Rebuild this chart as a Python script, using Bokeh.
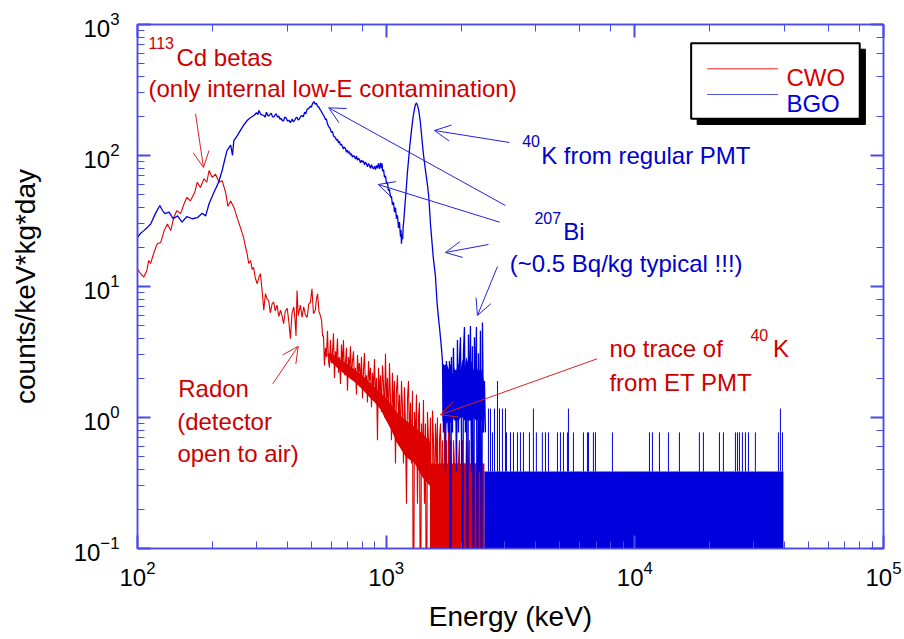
from bokeh.plotting import figure
from bokeh.models import LogAxis, Label, Arrow, OpenHead, BoxAnnotation, Range1d
from bokeh.embed import file_html
from bokeh.resources import INLINE

# ---------------- data ----------------
# CWO (red) spectrum: energy (keV), counts/keV*kg*day
cwo_points = [
    (100, 13.6), (103, 12.5), (106, 11.8), (109, 13.2), (111, 15.8), (113, 15), (116, 17.8),
    (120, 21.2), (124, 21.7), (128, 26.7), (132, 30), (136, 26.7), (140, 33.8), (144, 38),
    (149, 36), (154, 42.8), (158, 48), (163, 45), (170, 52.5), (174, 62.5), (179, 57),
    (185, 66.4), (190, 62.5), (194, 76.8), (200, 68), (206, 72), (213, 62.5), (219, 64.3),
    (226, 52.5), (231, 41), (237, 45), (244, 40.3), (251, 34), (259, 28.4), (267, 23.7),
    (272, 20), (276, 17.8), (280, 15), (285, 15.8), (289, 13.5), (293, 14), (298, 11.5),
    (303, 10.5), (308, 11.8), (312, 12.5), (317, 9.3), (322, 6.6), (327, 8.8), (332, 8.0),
    (337, 7.8), (342, 6.3), (348, 7.4), (353, 7.6), (358, 6.5), (364, 7.2), (370, 5.9),
    (376, 6.6), (381, 6.0), (387, 5.2), (393, 6.5), (400, 6.8), (406, 5.4), (412, 4.0),
    (418, 6.2), (425, 7.0), (430, 5.6), (434, 4.2), (438, 9.3), (443, 6.0), (452, 7.2),
    (459, 5.8), (466, 7.0), (473, 6.1), (481, 5.8), (488, 7.3), (496, 7.6), (503, 9.6),
    (510, 6.2), (519, 6.6), (524, 8.0), (530, 8.8), (537, 6.4), (544, 6.0), (550, 5.5),
    (555, 4.2),
    (559.6, 4.2), (564.8, 2.5), (570.0, 3.4), (575.3, 2.9), (580.7, 4.6), (586.1, 2.7),
    (591.5, 2.4), (597.0, 3.9), (602.6, 2.6), (608.2, 3.1), (613.9, 4.4), (619.6, 2.0),
    (625.3, 3.2), (631.2, 2.8), (637.0, 4.0), (643.0, 2.2), (648.9, 2.9), (655.0, 1.8),
    (661.1, 3.6), (667.2, 2.5), (673.4, 3.9), (679.7, 2.1), (686.0, 2.6), (692.4, 3.4),
    (698.9, 1.6), (705.4, 2.9), (711.9, 2.3), (718.6, 3.5), (725.2, 2.0), (732.0, 2.7),
    (738.8, 3.2), (745.7, 1.9), (752.6, 2.4), (759.6, 1.5), (766.7, 3.0), (773.8, 2.2),
    (781.0, 2.6), (788.3, 1.8), (795.6, 2.9), (803.0, 1.4), (810.5, 2.3), (818.0, 3.1),
    (825.6, 1.7), (833.3, 2.1), (841.1, 1.3), (848.9, 2.7), (856.8, 1.9), (864.8, 2.4),
    (872.8, 1.2), (880.9, 2.2), (889.1, 1.6), (897.4, 2.8), (905.7, 1.4), (914.2, 2.0),
    (922.7, 0.67), (931.2, 2.4), (939.9, 1.5), (948.6, 2.1), (957.5, 1.1), (966.4, 2.5),
    (975.4, 1.8), (984.4, 1.0), (993.6, 3.06), (1002.8, 1.3), (1012.2, 2.0), (1021.6, 0.9),
    (1031.1, 2.6), (1040.7, 1.4), (1050.4, 0.67), (1060.1, 2.2), (1070.0, 1.1), (1080.0, 1.9),
    (1090.0, 0.446), (1100.1, 1.6), (1110.4, 2.1), (1120.7, 0.9), (1131.1, 1.5), (1141.6, 0.67),
    (1152.3, 1.9), (1163.0, 1.2), (1173.8, 0.446), (1184.7, 1.7), (1195.7, 0.9), (1206.8, 0.22),
    (1218.1, 1.4), (1229.4, 1.9), (1240.8, 0.67), (1252.4, 1.3), (1264.0, 0.446), (1275.8, 1.6),
    (1287.6, 0.01), (1299.6, 1.1), (1311.7, 0.67), (1323.9, 1.5), (1336.2, 0.22), (1348.6, 1.0),
    (1361.2, 1.3), (1373.8, 0.01), (1386.6, 0.9), (1399.5, 0.446), (1412.5, 1.36), (1425.6, 0.22),
    (1438.9, 0.9), (1452.3, 0.01), (1465.8, 1.1), (1479.4, 0.67), (1493.2, 0.446), (1507.1, 1.0),
    (1521.1, 0.01), (1535.2, 1.13), (1549.5, 0.67), (1563.9, 0.22), (1578.4, 0.9), (1593.1, 0.446),
    (1607.9, 1.0), (1622.9, 0.01), (1638.0, 0.67), (1653.2, 0.9), (1668.6, 0.22), (1684.1, 0.67),
    (1699.7, 0.01), (1715.5, 0.9), (1731.5, 0.446), (1747.6, 0.67), (1763.8, 0.01), (1780.2, 0.9),
    (1796.8, 0.22), (1813.5, 0.67), (1830.4, 0.446), (1847.4, 0.01), (1864.6, 0.67), (1881.9, 0.446),
    (1899.4, 0.01), (1917.1, 0.67), (1934.9, 0.22), (1952.9, 0.446), (1971.0, 0.67), (1989.4, 0.01),
    (2007.9, 0.446), (2026.5, 0.67), (2045.4, 0.01), (2064.4, 0.446), (2083.6, 0.22), (2103.0, 0.67),
    (2122.5, 0.01), (2142.3, 0.446), (2162.2, 0.67), (2182.3, 0.01), (2202.6, 0.446), (2223.1, 0.22),
    (2243.7, 0.446), (2264.6, 0.01), (2285.7, 0.446), (2306.9, 0.22), (2328.4, 0.446), (2350.0, 0.01),
    (2371.9, 0.446), (2393.9, 0.446), (2416.2, 0.01), (2438.7, 0.446), (2461.4, 0.22), (2484.3, 0.01),
]
# CWO: dense core of the noisy part (lower / upper edge of the filled band)
cwo_core_e = [580, 600, 650, 700, 750, 800, 850, 900, 950, 1000, 1050, 1100, 1200, 1300, 1400, 1500]
cwo_core_lo = [3.0, 2.65, 2.3, 2.05, 1.85, 1.65, 1.45, 1.3, 1.15, 0.95, 0.8, 0.65, 0.5, 0.45, 0.35, 0.3]
cwo_core_hi = [3.1, 3.1, 2.8, 2.55, 2.3, 2.1, 1.9, 1.7, 1.55, 1.4, 1.25, 1.1, 0.95, 0.85, 0.75, 0.65]
# CWO: channels alternating between 0, 1 and 2 counts
cwo_block_e = [1500, 2484]
cwo_block_top = [0.446, 0.446]

# BGO (blue) spectrum
bgo_points = [
    (100, 23.7), (103, 25.5), (106, 26.7), (110, 28.5), (113, 30), (118, 36), (123, 41.5),
    (126, 38), (129, 36), (134, 37), (139, 32.9), (145, 34.6), (151, 31), (158, 34.2),
    (166, 32.9), (174, 33.5), (182, 36.3), (188, 34.6), (194, 42.8), (203, 52.5), (212, 62.5),
    (219, 76.8), (224, 92), (229, 109), (237, 120), (241, 100), (244, 130), (252, 142),
    (259, 155), (267, 170), (276, 185), (285, 195), (294, 202), (301, 212), (305, 205),
    (308, 221), (312, 208), (315, 205), (322, 202), (326, 196), (330, 214), (334, 203),
    (337, 200), (341, 206), (345, 210), (349, 198), (353, 196), (357, 203), (361, 208),
    (366, 196), (370, 200), (374, 189), (378, 192), (383, 184), (387, 185), (391, 196),
    (396, 194), (401, 183), (406, 186), (412, 178), (419, 190), (423, 181), (428, 185),
    (433, 193), (438, 196), (443, 187), (448, 190), (453, 199), (459, 202), (464, 197),
    (470, 214), (475, 208), (481, 225), (488, 229), (496, 238), (500, 233), (505, 248),
    (512, 258), (518, 247), (524, 250), (530, 238), (536, 234), (542, 225), (548, 218),
    (555, 208), (561, 202), (570, 188), (575, 190), (579, 178), (584, 170), (588, 165),
    (593, 163), (597, 158), (603, 150), (608, 153), (614, 141), (620, 139), (626, 136),
    (631, 131), (637, 133), (643, 125), (649, 128), (655, 120), (661, 122), (667, 118),
    (673, 112), (679, 116), (686, 113), (692, 106), (699, 110), (705, 104), (711, 107),
    (718, 101), (725, 103), (732, 97), (739, 100), (746, 98), (753, 94), (760, 99), (767, 92),
    (774, 95), (781, 93), (788, 88), (796, 92), (803, 89), (810, 91), (818, 85), (826, 89),
    (833, 86), (841, 82), (849, 87), (857, 84), (865, 80), (873, 85), (881, 81), (890, 79),
    (898, 83), (906, 78), (914, 84), (923, 80), (931, 87), (940, 79), (949, 88), (958, 80),
    (963, 87), (967, 76), (976, 78), (985, 68), (994, 70), (1003, 61), (1012, 62), (1021, 54),
    (1031, 55), (1041, 48), (1050, 49), (1060, 42), (1070, 44), (1080, 37), (1090, 40),
    (1100, 33), (1110, 35), (1121, 28), (1131, 31), (1142, 24), (1147, 27), (1152, 21.2),
    (1158, 25), (1165, 23), (1171, 29), (1177, 31.6), (1190, 42), (1203, 54), (1218, 75),
    (1233, 97), (1248, 125), (1264, 155), (1282, 195), (1300, 227), (1312, 245), (1324, 252),
    (1338, 240), (1352, 221), (1370, 185), (1387, 146), (1400, 120), (1417, 97), (1435, 80),
    (1452, 68), (1470, 57), (1484, 48), (1496, 38), (1507, 30), (1525, 23), (1545, 17),
    (1560, 14.5), (1578, 12), (1590, 9.5), (1603, 7.4), (1615, 6.4), (1627, 5.5), (1640, 4.8),
    (1653, 4.1), (1668, 3.4),
    (1684.1, 2.7), (1699.7, 0.77), (1715.5, 2.4), (1731.5, 0.387), (1747.6, 2.7), (1763.8, 1.16),
    (1780.2, 0.77), (1796.8, 2.7), (1813.5, 0.01), (1830.4, 2.9), (1847.4, 0.77), (1864.6, 3.4),
    (1881.9, 1.16), (1899.4, 2.3), (1917.1, 0.387), (1934.9, 3.9), (1952.9, 0.77), (1971.0, 2.7),
    (1989.4, 4.1), (2007.9, 0.77), (2026.5, 0.01), (2045.4, 3.1), (2064.4, 4.9), (2083.6, 0.77),
    (2103.0, 2.7), (2122.5, 0.01), (2142.3, 4.3), (2162.2, 1.16), (2182.3, 5.0), (2202.6, 0.387),
    (2223.1, 3.5), (2243.7, 0.01), (2264.6, 4.1), (2285.7, 1.55), (2306.9, 4.9), (2328.4, 0.01),
    (2350.0, 3.1), (2371.9, 0.387), (2393.9, 4.6), (2416.2, 0.01), (2438.7, 5.3), (2461.4, 0.77),
    (2484.3, 1.9), (2507.4, 0.77),
]
# BGO: dense core of the noisy part after the 40K peak
bgo_core_e = [1684, 1720, 1750, 1790, 1814, 1850, 1880, 1900, 1950, 1990, 2030, 2070, 2100,
              2150, 2200, 2250, 2300, 2350, 2400, 2440, 2470]
bgo_core_lo = [0.95, 0.9, 0.9, 0.95, 0.9, 1.0, 0.95, 0.95, 0.95, 1.0, 1.0, 0.95, 0.95,
               0.95, 0.95, 1.0, 0.95, 0.95, 0.95, 0.95, 0.95]
bgo_core_hi = [2.6, 2.5, 2.6, 2.3, 2.6, 2.1, 2.4, 2.2, 2.6, 2.3, 2.8, 2.4, 2.9,
               2.5, 2.7, 2.3, 2.6, 2.2, 2.4, 2.2, 1.9]
# BGO: one-count level band (channels alternating 0 and 1 count) 2.5 - 40 MeV
bgo_block_e = [2484, 39600]
bgo_block_top = [0.387, 0.387]
bgo_one_count = 0.387
# BGO: isolated channels above one count in the high-energy tail
bgo_spike_e = [2578, 2627, 2676, 2726, 2803, 2855, 2935, 3018, 3046, 3162, 3250, 3373, 3467,
               3565, 3768, 3910, 4018, 4247, 4371, 4494, 4885, 5022, 5163, 5358, 5408, 5664,
               6214, 6448, 6508, 6815, 6943, 8127, 11450, 11770, 12560, 13650, 15110, 18180,
               18870, 21890, 22710, 25380, 25860, 26340, 27080, 27850, 28630, 30530, 37790,
               38500, 39230]
bgo_spike_y = [1.17, 1.17, 0.77, 1.17, 1.9, 1.17, 1.17, 1.17, 0.77, 0.77, 0.77, 0.77, 0.77,
               0.77, 0.77, 1.17, 0.77, 0.77, 0.77, 0.77, 0.77, 0.77, 0.77, 0.77, 1.17, 0.77,
               0.77, 0.77, 0.77, 0.77, 0.77, 0.77, 0.77, 0.77, 0.77, 0.77, 0.77, 0.77,
               0.77, 0.77, 0.77, 0.77, 0.77, 0.77, 0.77, 0.77, 0.77, 0.77, 0.77,
               1.17, 0.77]
zero_level = 0.01

cwo_e = [e for e, _ in cwo_points]
cwo_y = [v for _, v in cwo_points]
bgo_e = [e for e, _ in bgo_points]
bgo_y = [v for _, v in bgo_points]

# ---------------- styles ----------------
RED = "#dd0000"
BLUE = "#0000dd"
TXT_RED = "#cc0000"
TXT_BLUE = "#0000cc"
FRAME = "#4a4ae8"
FONT = "Liberation Sans"

p = figure(width=904, height=639, x_axis_type="log", y_axis_type="log",
           x_range=Range1d(1e2, 1e5), y_range=Range1d(1e-1, 1e3),
           output_backend="svg", toolbar_location=None,
           min_border_left=137, min_border_right=21, min_border_top=24, min_border_bottom=91,
           x_axis_label="Energy (keV)", y_axis_label="counts/keV*kg*day")
p.xgrid.visible = False
p.ygrid.visible = False
p.outline_line_color = FRAME
p.outline_line_width = 1.5
p.background_fill_color = "white"
p.border_fill_color = "white"


def style_axis(ax):
    ax.axis_line_color = FRAME
    ax.axis_line_width = 1.5
    ax.major_tick_line_color = FRAME
    ax.minor_tick_line_color = FRAME
    ax.major_tick_line_width = 2
    ax.minor_tick_line_width = 1
    ax.major_tick_in = 13
    ax.major_tick_out = 0
    ax.minor_tick_in = 7
    ax.minor_tick_out = 0


for ax in (p.xaxis[0], p.yaxis[0]):
    style_axis(ax)
    ax.major_label_text_font = FONT
    ax.major_label_text_font_size = "24px"
    ax.major_label_text_color = "black"
    ax.axis_label_text_font = FONT
    ax.axis_label_text_font_size = "28px"
    ax.axis_label_text_font_style = "normal"
    ax.axis_label_text_color = "black"
p.xaxis[0].major_label_standoff = 12
p.xaxis[0].axis_label_standoff = 12
p.yaxis[0].major_label_standoff = 18
p.yaxis[0].axis_label_standoff = 30

for side in ("above", "right"):
    mirror = LogAxis()
    style_axis(mirror)
    mirror.major_label_text_color = None
    mirror.major_label_text_font_size = "0px"
    mirror.major_label_standoff = 0
    p.add_layout(mirror, side)

# ---------------- data glyphs ----------------
p.varea(x=cwo_core_e, y1=cwo_core_lo, y2=cwo_core_hi, fill_color=RED)
p.varea(x=cwo_block_e, y1=[zero_level] * len(cwo_block_e), y2=cwo_block_top, fill_color=RED)
p.line(cwo_e, cwo_y, line_color=RED, line_width=1.1)
p.varea(x=bgo_core_e, y1=bgo_core_lo, y2=bgo_core_hi, fill_color=BLUE)
p.varea(x=bgo_block_e, y1=[zero_level] * len(bgo_block_e), y2=bgo_block_top, fill_color=BLUE)
p.line(bgo_e, bgo_y, line_color=BLUE, line_width=1.3)
p.segment(x0=bgo_spike_e, y0=[bgo_one_count] * len(bgo_spike_e), x1=bgo_spike_e, y1=bgo_spike_y,
          line_color=BLUE, line_width=1)

# ---------------- legend (box with shadow) ----------------
p.add_layout(BoxAnnotation(left=17810, right=84560, top=647.7, bottom=172.4,
                           fill_color="black", fill_alpha=1, line_color="black", line_alpha=1))
p.add_layout(BoxAnnotation(left=16845, right=80230, top=720, bottom=190.6,
                           fill_color="white", fill_alpha=1, line_color="black", line_alpha=1,
                           line_width=2))
p.add_layout(Arrow(start=None, end=None, x_start=19530, y_start=459, x_end=37690, y_end=459,
                   line_color="#ee2222", line_width=1))
p.add_layout(Arrow(start=None, end=None, x_start=19530, y_start=292.2, x_end=37690, y_end=292.2,
                   line_color="#5555dd", line_width=1))


def add_text(x, y, text, color, size="24px"):
    p.add_layout(Label(x=x, y=y, text=text, text_color=color, text_font=FONT,
                       text_font_size=size, text_align="left", text_baseline="alphabetic"))


add_text(40700, 393.9, "CWO", RED)
add_text(40700, 249.5, "BGO", BLUE)

# ---------------- annotations ----------------
add_text(110.7, 716.1, "113", TXT_RED, "16px")
add_text(143.5, 559.9, "Cd betas", TXT_RED)
add_text(110.7, 324.8, "(only internal low-E contamination)", TXT_RED)
add_text(3524, 127.9, "40", TXT_BLUE, "16px")
add_text(4200, 100.0, "K from regular PMT", TXT_BLUE)
add_text(3948, 33.6, "207", TXT_BLUE, "16px")
add_text(5149, 26.3, "Bi", TXT_BLUE)
add_text(3141, 14.98, "(~0.5 Bq/kg typical !!!)", TXT_BLUE)
add_text(7905, 3.363, "no trace of", TXT_RED)
add_text(29160, 4.301, "40", TXT_RED, "16px")
add_text(35980, 3.363, "K", TXT_RED)
add_text(7905, 1.850, "from ET PMT", TXT_RED)
add_text(145.8, 1.665, "Radon", TXT_RED)
add_text(144.4, 0.932, "(detector", TXT_RED)
add_text(144.7, 0.531, "open to air)", TXT_RED)


def add_arrow(xs, ys, xe, ye, color):
    p.add_layout(Arrow(end=OpenHead(size=16, line_color=color, line_width=1),
                       x_start=xs, y_start=ys, x_end=xe, y_end=ye,
                       line_color=color, line_width=1))


add_arrow(171.1, 209.2, 184.2, 81.0, "#dd2222")
add_arrow(3132, 125.7, 1564, 155.2, "#2222dd")
add_arrow(3018, 41.5, 587.6, 231.3, "#2222dd")
add_arrow(2862, 30.96, 928.6, 60.05, "#2222dd")
add_arrow(2578, 20.92, 1731.8, 18.18, "#2222dd")
add_arrow(2803, 14.21, 2328, 6.006, "#2222dd")
add_arrow(349.9, 1.808, 442.9, 3.502, "#dd2222")
add_arrow(7052, 2.806, 1653, 1.048, "#dd2222")

open("out.html", "w").write(file_html(p, INLINE))
